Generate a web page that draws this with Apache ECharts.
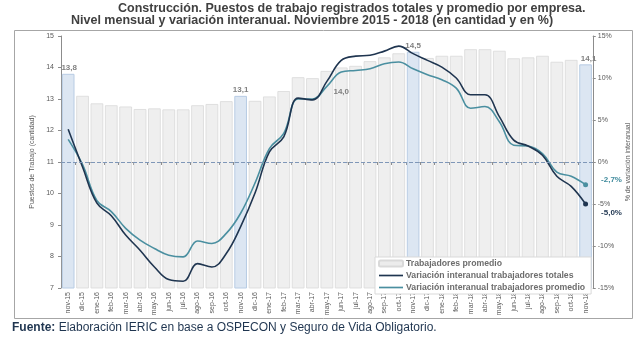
<!DOCTYPE html>
<html><head><meta charset="utf-8">
<script src="https://cdn.jsdelivr.net/npm/echarts@6/dist/echarts.min.js"></script>
<style>html,body{margin:0;padding:0;background:#fff}#c{width:640px;height:338px}</style>
</head><body><div id="c"></div>
<script>
const months = ['nov-15','dic-15','ene-16','feb-16','mar-16','abr-16','may-16','jun-16','jul-16','ago-16','sep-16','oct-16','nov-16','dic-16','ene-17','feb-17','mar-17','abr-17','may-17','jun-17','jul-17','ago-17','sep-17','oct-17','nov-17','dic-17','ene-18','feb-18','mar-18','abr-18','may-18','jun-18','jul-18','ago-18','sep-18','oct-18','nov-18'];
const promedio = [13.8,13.1,12.86,12.8,12.76,12.68,12.7,12.67,12.67,12.8,12.84,12.93,13.1,12.94,13.08,13.25,13.69,13.66,13.89,14.0,14.05,14.2,14.32,14.45,14.5,14.3,14.37,14.37,14.58,14.58,14.53,14.29,14.32,14.37,14.18,14.24,14.1];
const varTotales = [3.9,-0.6,-4.9,-6.4,-8.7,-10.5,-12.5,-14.0,-14.2,-12.1,-12.5,-10.9,-7.7,-3.7,1.2,3.0,7.6,7.4,9.6,12.1,12.6,12.7,13.2,13.8,12.9,12.1,11.3,10.0,8.0,8.0,5.4,2.6,1.9,0.8,-1.7,-2.9,-5.0];
const varPromedio = [2.7,-0.3,-4.6,-5.9,-7.9,-9.3,-10.3,-11.1,-11.3,-9.4,-9.7,-8.5,-6.1,-2.5,1.6,3.4,7.5,7.5,9.0,10.7,10.9,11.1,11.7,11.9,11.1,10.4,9.8,8.8,6.4,6.6,4.8,2.0,1.9,1.0,-1.2,-1.7,-2.7];
const highlight = {0:'13,8',12:'13,1',19:'14,0',24:'14,5',36:'14,1'};
const novIdx = [0,12,24,36];

const FONT = '"Liberation Sans", Arial, sans-serif';
const barData = promedio.map((v,i)=>{
  const o = {value:v};
  if (novIdx.includes(i)) o.itemStyle = {color:'#dce6f2', borderColor:'#b8cce4', borderWidth:1};
  if (highlight[i]) {
    o.label = {show:true, position:'top', formatter:highlight[i], color:'#808080', fontSize:8, fontWeight:'bold', fontFamily:FONT, distance:2};
    if (i===0) o.label.offset=[1,0];
    if (i===19) o.label.offset=[0,30];
    if (i===36) o.label.offset=[3,0];
  }
  return o;
});
const lineT = varTotales.map((v,i)=> i===varTotales.length-1 ? {value:v, symbol:'circle', symbolSize:5,
  label:{show:true, position:'right', formatter:'-5,0%', color:'#1f3550', fontSize:8, fontWeight:'bold', fontFamily:FONT, offset:[8,9]}} : v);
const lineP = varPromedio.map((v,i)=> i===varPromedio.length-1 ? {value:v, symbol:'circle', symbolSize:5,
  label:{show:true, position:'right', formatter:'-2,7%', color:'#3f8a9c', fontSize:8, fontWeight:'bold', fontFamily:FONT, offset:[8,-5]}} : v);

const LINE_ICON = 'path://M0,0 L100,0 L100,7 L0,7 Z';
const chart = echarts.init(document.getElementById('c'), null, {renderer:'canvas'});
chart.setOption({
  animation:false,
  textStyle:{fontFamily:FONT},
  graphic:[
    {type:'rect', shape:{x:14.5,y:30.5,width:618,height:288}, style:{fill:'none', stroke:'#a6a6a6', lineWidth:1}, z:-10},
    {type:'text', left:118, top:2, style:{text:'Construcción. Puestos de trabajo registrados totales y promedio por empresa.', font:'bold 12.5px '+FONT, fill:'#404040'}},
    {type:'text', left:71, top:14, style:{text:'Nivel mensual y variación interanual. Noviembre 2015 - 2018 (en cantidad y en %)', font:'bold 12.5px '+FONT, fill:'#404040'}},
    {type:'text', left:12, top:322, style:{rich:{b:{font:'bold 12px '+FONT, fill:'#1f3550'}, n:{font:'12px '+FONT, fill:'#1f3550'}}, text:'{b|Fuente:} {n|Elaboración IERIC en base a OSPECON y Seguro de Vida Obligatorio.}'}}
  ],
  legend:{
    orient:'vertical', left:375, top:257, itemWidth:24, itemHeight:6, itemGap:3,
    padding:[2,6,2,3], backgroundColor:'#fff', borderColor:'#d9d9d9', borderWidth:1,
    textStyle:{color:'#6d6d6d', fontSize:8.7, fontWeight:'bold', fontFamily:FONT, padding:[0,0,0,-2]},
    data:[
      {name:'Trabajadores promedio', itemStyle:{color:'#ececec', borderColor:'#d9d9d9'}},
      {name:'Variación interanual trabajadores totales', icon:LINE_ICON, itemStyle:{color:'#1f3550'}},
      {name:'Variación interanual trabajadores promedio', icon:LINE_ICON, itemStyle:{color:'#4a8fa0'}}
    ]
  },
  grid:{left:61, right:39, top:36, bottom:50},
  xAxis:{type:'category', data:months, boundaryGap:true,
    axisLine:{lineStyle:{color:'#8c8c8c'}}, axisTick:{show:true, alignWithLabel:false, length:3, lineStyle:{color:'#8c8c8c'}},
    axisLabel:{rotate:90, interval:0, fontSize:7, color:'#595959', margin:4}},
  yAxis:[
    {type:'value', min:7, max:15, interval:1, position:'left',
      name:'Puestos de Trabajo (cantidad)', nameLocation:'middle', nameRotate:90, nameGap:24,
      nameTextStyle:{fontSize:7, color:'#595959'},
      axisLine:{show:true, lineStyle:{color:'#8c8c8c'}}, axisTick:{show:true, length:3, lineStyle:{color:'#8c8c8c'}},
      axisLabel:{fontSize:7, color:'#595959', margin:7}, splitLine:{show:false}},
    {type:'value', min:-15, max:15, interval:5, position:'right',
      name:'% de variación interanual', nameLocation:'middle', nameRotate:90, nameGap:27,
      nameTextStyle:{fontSize:7, color:'#595959'},
      axisLine:{show:true, lineStyle:{color:'#8c8c8c'}}, axisTick:{show:true, length:3, lineStyle:{color:'#8c8c8c'}},
      axisLabel:{fontSize:7, color:'#595959', margin:5, formatter:'{value}%'}, splitLine:{show:false}}
  ],
  series:[
    {name:'Trabajadores promedio', type:'bar', yAxisIndex:0, data:barData, barCategoryGap:'12%',
      itemStyle:{color:'#efefef', borderColor:'#d9d9d9', borderWidth:0.8}},
    {name:'Variación interanual trabajadores totales', type:'line', yAxisIndex:1, data:lineT, smooth:0.4,
      symbol:'none', showSymbol:true, lineStyle:{color:'#1f3550', width:1.6}, itemStyle:{color:'#1f3550'}, z:4},
    {name:'Variación interanual trabajadores promedio', type:'line', yAxisIndex:1, data:lineP, smooth:0.4,
      symbol:'none', showSymbol:true, lineStyle:{color:'#4a8fa0', width:1.6}, itemStyle:{color:'#4a8fa0'}, z:3,
      markLine:{silent:true, symbol:'none', label:{show:false}, lineStyle:{color:'#7f97b8', type:'dashed', width:1}, data:[{yAxis:0}]}}
  ]
});
</script></body></html>
